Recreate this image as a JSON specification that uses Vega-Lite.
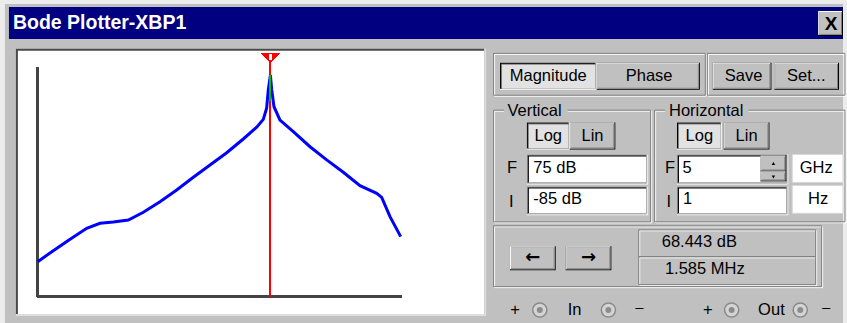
{
  "$schema": "https://vega.github.io/schema/vega-lite/v6.json",
  "width": 847,
  "height": 323,
  "autosize": {"type": "fit", "contains": "padding"},
  "padding": 0,
  "background": "#ececec",
  "config": {"view": {"stroke": null}, "text": {"font": "Liberation Sans", "fontSize": 16.5, "color": "#000000"}},
  "datasets": {
    "window": [{"x": 5, "x2": 848, "y": 4, "y2": 324}],
    "titlebar": [{"x": 9, "x2": 848, "y": 7, "y2": 39}],
    "panel": [{"x": 16, "x2": 489, "y": 49, "y2": 317}],
    "groups": [
      {"x": 496.5, "x2": 709.5, "y": 53.5, "y2": 95.5},
      {"x": 711.5, "x2": 850, "y": 53.5, "y2": 95.5},
      {"x": 496.5, "x2": 654.5, "y": 110.5, "y2": 222.5},
      {"x": 658.5, "x2": 850, "y": 110.5, "y2": 222.5},
      {"x": 496.5, "x2": 826.5, "y": 226.5, "y2": 287.5},
      {"x": 642.5, "x2": 820.5, "y": 230.5, "y2": 257.5},
      {"x": 642.5, "x2": 820.5, "y": 257.5, "y2": 285.5}
    ],
    "labelbg": [
      {"x": 507, "x2": 571, "y": 103, "y2": 119},
      {"x": 669, "x2": 753, "y": 103, "y2": 119}
    ],
    "fields": [
      {"x": 530, "x2": 652, "y": 155, "y2": 185},
      {"x": 530, "x2": 652, "y": 187, "y2": 216},
      {"x": 681, "x2": 793, "y": 155, "y2": 185},
      {"x": 681, "x2": 793, "y": 187, "y2": 216}
    ],
    "units": [
      {"x": 797, "x2": 848, "y": 155, "y2": 183},
      {"x": 797, "x2": 848, "y": 186, "y2": 214}
    ],
    "raised": [
      {"x": 600, "x2": 704, "y": 63, "y2": 90},
      {"x": 717, "x2": 776, "y": 63, "y2": 90},
      {"x": 779, "x2": 844, "y": 63, "y2": 90},
      {"x": 573, "x2": 619, "y": 123, "y2": 150},
      {"x": 728, "x2": 774, "y": 123, "y2": 150},
      {"x": 513, "x2": 559, "y": 247, "y2": 271},
      {"x": 569, "x2": 615, "y": 247, "y2": 271},
      {"x": 823, "x2": 848, "y": 11, "y2": 36},
      {"x": 765, "x2": 791, "y": 156, "y2": 172},
      {"x": 765, "x2": 791, "y": 172, "y2": 182}
    ],
    "pressed": [
      {"x": 503, "x2": 600, "y": 63, "y2": 90},
      {"x": 530, "x2": 573, "y": 123, "y2": 150},
      {"x": 681, "x2": 726, "y": 123, "y2": 150}
    ],
    "ctext": [
      {"label": "Magnitude", "x": 551.5, "y": 76},
      {"label": "Phase", "x": 653, "y": 76},
      {"label": "Save", "x": 748, "y": 76},
      {"label": "Set...", "x": 811, "y": 76},
      {"label": "Log", "x": 551.5, "y": 136},
      {"label": "Lin", "x": 596, "y": 136},
      {"label": "Log", "x": 703.5, "y": 136},
      {"label": "Lin", "x": 751, "y": 136},
      {"label": "GHz", "x": 821, "y": 169},
      {"label": "Hz", "x": 823, "y": 200},
      {"label": "68.443 dB", "x": 703.5, "y": 243},
      {"label": "1.585 MHz", "x": 709, "y": 270},
      {"label": "+", "x": 518, "y": 311},
      {"label": "In", "x": 578, "y": 311},
      {"label": "−", "x": 643, "y": 310},
      {"label": "+", "x": 712, "y": 311},
      {"label": "Out", "x": 776, "y": 311},
      {"label": "−", "x": 831, "y": 310}
    ],
    "ltext": [
      {"label": "Vertical", "x": 510.5, "y": 111},
      {"label": "Horizontal", "x": 673, "y": 111},
      {"label": "F", "x": 510, "y": 169},
      {"label": "I", "x": 512, "y": 203},
      {"label": "75 dB", "x": 536.5, "y": 169},
      {"label": "-85 dB", "x": 536.5, "y": 200},
      {"label": "F", "x": 669, "y": 169},
      {"label": "I", "x": 670.5, "y": 203},
      {"label": "5", "x": 686.5, "y": 169},
      {"label": "1", "x": 687, "y": 200}
    ],
    "arrows": [
      {"label": "←", "x": 536, "y": 259},
      {"label": "→", "x": 592, "y": 259}
    ],
    "title": [{"label": "Bode Plotter-XBP1", "x": 13, "y": 23.5}],
    "close": [{"label": "X", "x": 836, "y": 24}],
    "terminals": [{"x": 543, "y": 311}, {"x": 612, "y": 311}, {"x": 736, "y": 311}, {"x": 805, "y": 311}],
    "spinup": [{"x": 778, "y": 164}],
    "spindown": [{"x": 778, "y": 177.5}],
    "curve": [
      {"freq": 1, "db": -60.6},
      {"freq": 2.6, "db": -52.9},
      {"freq": 7.3, "db": -44.9},
      {"freq": 20.2, "db": -37.3},
      {"freq": 45.7, "db": -33.8},
      {"freq": 103.5, "db": -32.9},
      {"freq": 260, "db": -31.5},
      {"freq": 653, "db": -26.1},
      {"freq": 1816, "db": -18.7},
      {"freq": 5047, "db": -10.6},
      {"freq": 14030, "db": -1.7},
      {"freq": 39000, "db": 6.9},
      {"freq": 108650, "db": 15.4},
      {"freq": 300600, "db": 25},
      {"freq": 683900, "db": 33.2},
      {"freq": 1025700, "db": 38.7},
      {"freq": 1259000, "db": 46.4},
      {"freq": 1393000, "db": 59.2},
      {"freq": 1585000, "db": 69.5},
      {"freq": 1718000, "db": 59.2},
      {"freq": 1977000, "db": 47.5},
      {"freq": 2858000, "db": 38.2},
      {"freq": 6457000, "db": 30.1},
      {"freq": 18030000, "db": 19.6},
      {"freq": 50100000, "db": 10.4},
      {"freq": 139000000, "db": 1.8},
      {"freq": 387000000, "db": -7.6},
      {"freq": 1079000000, "db": -12.9},
      {"freq": 1466000000, "db": -15.7},
      {"freq": 2438000000, "db": -29.2},
      {"freq": 4700000000, "db": -43.1}
    ]
  },
  "layer": [
    {
      "encoding": {
        "x": {"field": "x", "type": "quantitative", "scale": {"domain": [0, 847], "nice": false, "zero": false}, "axis": null},
        "y": {"field": "y", "type": "quantitative", "scale": {"domain": [0, 323], "nice": false, "zero": false, "reverse": true}, "axis": null}
      },
      "layer": [
        {"data": {"name": "window"}, "mark": {"type": "rect", "fill": "#c0c0c0"}, "encoding": {"x2": {"field": "x2"}, "y2": {"field": "y2"}}},
        {"data": {"name": "titlebar"}, "mark": {"type": "rect", "fill": "#000080"}, "encoding": {"x2": {"field": "x2"}, "y2": {"field": "y2"}}},
        {"data": {"name": "panel"}, "mark": {"type": "rect", "fill": "#dedede"}, "encoding": {"x2": {"field": "x2"}, "y2": {"field": "y2"}}},
        {"data": {"name": "panel"}, "mark": {"type": "rect", "fill": "#4a4a4a", "x2Offset": -2, "y2Offset": -2}, "encoding": {"x2": {"field": "x2"}, "y2": {"field": "y2"}}},
        {"data": {"name": "panel"}, "mark": {"type": "rect", "fill": "#ffffff", "xOffset": 2, "yOffset": 2, "x2Offset": -2, "y2Offset": -2}, "encoding": {"x2": {"field": "x2"}, "y2": {"field": "y2"}}},
        {"data": {"name": "groups"}, "mark": {"type": "rect", "fillOpacity": 0, "stroke": "#ffffff", "strokeWidth": 1, "xOffset": 1, "yOffset": 1, "x2Offset": 1, "y2Offset": 1}, "encoding": {"x2": {"field": "x2"}, "y2": {"field": "y2"}}},
        {"data": {"name": "groups"}, "mark": {"type": "rect", "fillOpacity": 0, "stroke": "#808080", "strokeWidth": 1}, "encoding": {"x2": {"field": "x2"}, "y2": {"field": "y2"}}},
        {"data": {"name": "labelbg"}, "mark": {"type": "rect", "fill": "#c0c0c0"}, "encoding": {"x2": {"field": "x2"}, "y2": {"field": "y2"}}},
        {"data": {"name": "fields"}, "mark": {"type": "rect", "fill": "#ffffff"}, "encoding": {"x2": {"field": "x2"}, "y2": {"field": "y2"}}},
        {"data": {"name": "fields"}, "mark": {"type": "rect", "fill": "#808080", "x2Offset": -1, "y2Offset": -1}, "encoding": {"x2": {"field": "x2"}, "y2": {"field": "y2"}}},
        {"data": {"name": "fields"}, "mark": {"type": "rect", "fill": "#c0c0c0", "xOffset": 1, "yOffset": 1, "x2Offset": -1, "y2Offset": -1}, "encoding": {"x2": {"field": "x2"}, "y2": {"field": "y2"}}},
        {"data": {"name": "fields"}, "mark": {"type": "rect", "fill": "#000000", "xOffset": 1, "yOffset": 1, "x2Offset": -2, "y2Offset": -2}, "encoding": {"x2": {"field": "x2"}, "y2": {"field": "y2"}}},
        {"data": {"name": "fields"}, "mark": {"type": "rect", "fill": "#ffffff", "xOffset": 2, "yOffset": 2, "x2Offset": -2, "y2Offset": -2}, "encoding": {"x2": {"field": "x2"}, "y2": {"field": "y2"}}},
        {"data": {"name": "units"}, "mark": {"type": "rect", "fill": "#ffffff", "stroke": "#d8d8d8", "strokeWidth": 1}, "encoding": {"x2": {"field": "x2"}, "y2": {"field": "y2"}}},
        {"data": {"name": "raised"}, "mark": {"type": "rect", "fill": "#000000"}, "encoding": {"x2": {"field": "x2"}, "y2": {"field": "y2"}}},
        {"data": {"name": "raised"}, "mark": {"type": "rect", "fill": "#ffffff", "x2Offset": -1, "y2Offset": -1}, "encoding": {"x2": {"field": "x2"}, "y2": {"field": "y2"}}},
        {"data": {"name": "raised"}, "mark": {"type": "rect", "fill": "#808080", "xOffset": 1, "yOffset": 1, "x2Offset": -1, "y2Offset": -1}, "encoding": {"x2": {"field": "x2"}, "y2": {"field": "y2"}}},
        {"data": {"name": "raised"}, "mark": {"type": "rect", "fill": "#c0c0c0", "xOffset": 1, "yOffset": 1, "x2Offset": -2, "y2Offset": -2}, "encoding": {"x2": {"field": "x2"}, "y2": {"field": "y2"}}},
        {"data": {"name": "pressed"}, "mark": {"type": "rect", "fill": "#ffffff"}, "encoding": {"x2": {"field": "x2"}, "y2": {"field": "y2"}}},
        {"data": {"name": "pressed"}, "mark": {"type": "rect", "fill": "#000000", "x2Offset": -1, "y2Offset": -1}, "encoding": {"x2": {"field": "x2"}, "y2": {"field": "y2"}}},
        {"data": {"name": "pressed"}, "mark": {"type": "rect", "fill": "#808080", "xOffset": 1, "yOffset": 1, "x2Offset": -1, "y2Offset": -1}, "encoding": {"x2": {"field": "x2"}, "y2": {"field": "y2"}}},
        {"data": {"name": "pressed"}, "mark": {"type": "rect", "fill": "#e2e2e2", "xOffset": 2, "yOffset": 2, "x2Offset": -1, "y2Offset": -1}, "encoding": {"x2": {"field": "x2"}, "y2": {"field": "y2"}}},
        {"data": {"name": "title"}, "mark": {"type": "text", "align": "left", "baseline": "middle", "fontSize": 19.5, "fontWeight": "bold", "color": "#ffffff", "fill": "#ffffff"}, "encoding": {"text": {"field": "label"}}},
        {"data": {"name": "close"}, "mark": {"type": "text", "align": "center", "baseline": "middle", "fontSize": 19, "fontWeight": "bold"}, "encoding": {"text": {"field": "label"}}},
        {"data": {"name": "ctext"}, "mark": {"type": "text", "align": "center", "baseline": "middle"}, "encoding": {"text": {"field": "label"}}},
        {"data": {"name": "ltext"}, "mark": {"type": "text", "align": "left", "baseline": "middle"}, "encoding": {"text": {"field": "label"}}},
        {"data": {"name": "arrows"}, "mark": {"type": "text", "align": "center", "baseline": "middle", "font": "DejaVu Sans", "fontSize": 18, "fontWeight": "bold"}, "encoding": {"text": {"field": "label"}}},
        {"mark": {"type": "rule", "color": "#000000", "strokeWidth": 1}, "encoding": {"x": {"datum": 692.5}, "y": {"datum": 160}, "y2": {"datum": 178}}},
        {"data": {"name": "spinup"}, "mark": {"type": "point", "shape": "triangle-up", "size": 12, "filled": true, "color": "#000000", "opacity": 1}},
        {"data": {"name": "spindown"}, "mark": {"type": "point", "shape": "triangle-down", "size": 12, "filled": true, "color": "#000000", "opacity": 1}},
        {"data": {"name": "terminals"}, "mark": {"type": "point", "shape": "circle", "size": 200, "filled": true, "fill": "#d4d4d4", "stroke": "#8a8a8a", "strokeWidth": 1.5, "opacity": 1}},
        {"data": {"name": "terminals"}, "mark": {"type": "point", "shape": "circle", "size": 36, "filled": true, "color": "#8c8c8c", "opacity": 1}}
      ]
    },
    {
      "data": {"name": "curve"},
      "encoding": {
        "x": {"field": "freq", "type": "quantitative", "scale": {"type": "log", "domain": [1, 5000000000], "range": [37.7, 401.7], "nice": false}, "axis": null},
        "y": {"field": "db", "type": "quantitative", "scale": {"domain": [-85, 75], "range": [296.7, 67.3], "nice": false, "zero": false}, "axis": null}
      },
      "layer": [
        {"mark": {"type": "rule", "color": "#444444", "strokeWidth": 2}, "encoding": {"x": {"datum": 1}, "y": {"datum": -85}, "y2": {"datum": 75}}},
        {"mark": {"type": "rule", "color": "#444444", "strokeWidth": 2}, "encoding": {"x": {"datum": 1}, "x2": {"datum": 5000000000}, "y": {"datum": -85}}},
        {"mark": {"type": "line", "color": "#0000ff", "strokeWidth": 3}},
        {"mark": {"type": "rule", "color": "#ff0000", "strokeWidth": 1.2}, "encoding": {"x": {"datum": 1585000}, "y": {"datum": -85}, "y2": {"datum": 82}}},
        {"mark": {"type": "rule", "color": "#00c000", "strokeWidth": 1.2}, "encoding": {"x": {"datum": 1585000}, "y": {"datum": 52}, "y2": {"datum": 69.5}}},
        {"mark": {"type": "point", "shape": "M-1,-0.5L1,-0.5L0,0.5Z", "size": 324, "filled": true, "color": "#ff0000", "opacity": 1}, "encoding": {"x": {"datum": 1585000}, "y": {"datum": 81.5}}},
        {"mark": {"type": "point", "shape": "M-0.5,-1L0.5,-1L0.5,0.5L0,1L-0.5,0.5Z", "size": 30, "filled": true, "color": "#ffffff", "opacity": 1}, "encoding": {"x": {"datum": 1585000}, "y": {"datum": 82}}}
      ]
    }
  ],
  "resolve": {"scale": {"x": "independent", "y": "independent"}}
}
